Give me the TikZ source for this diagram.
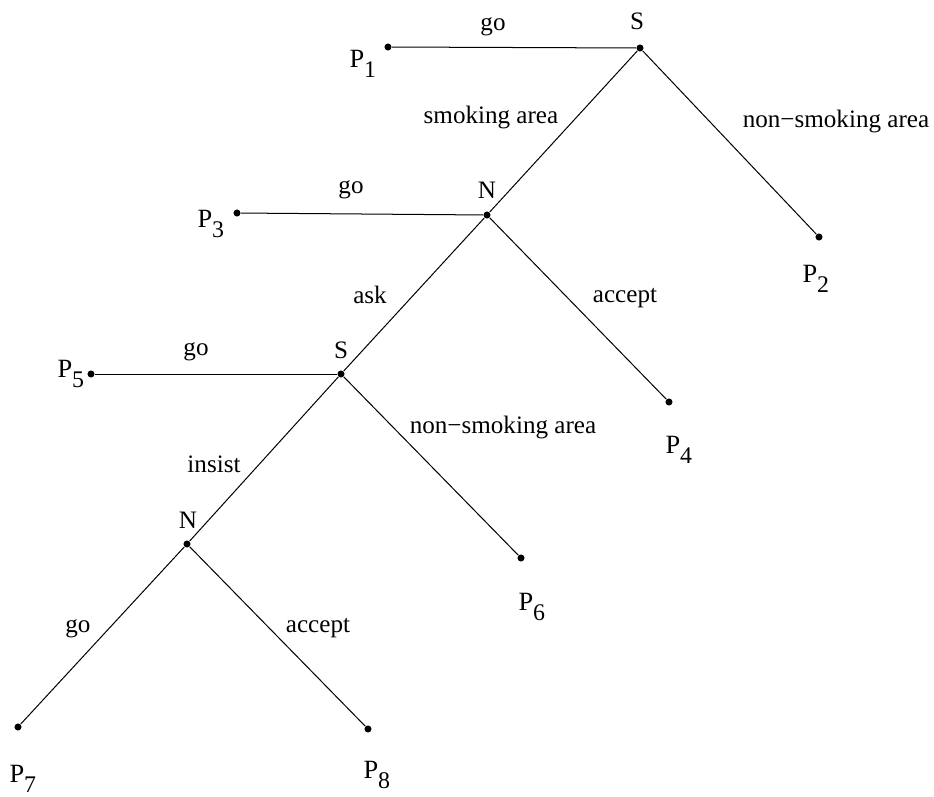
\documentclass[tikz,border=0pt]{standalone}
\usepackage{fontspec}
\setmainfont{Liberation Serif}
\usetikzlibrary{positioning}
\usepackage{xcolor}

\newcommand{\pout}[1]{{\fontsize{10.5}{12}\selectfont P}\raisebox{-0.40em}{\fontsize{9.5}{11}\selectfont #1}}

\begin{document}
\begin{tikzpicture}[x=1.4cm, y=1.4cm,
	dot/.style={fill=black, circle, inner sep=0pt, minimum size=2.8pt},
	branch/.style={draw=black, line width=0.4pt},
	lbl/.style={anchor=base, inner sep=0pt},
	pay/.style={anchor=base west, inner sep=0pt}]
	\useasboundingbox (0,0) rectangle (9.34,-7.97);

	% Decision points
	\node[dot] (s1) at (6.40,-0.48) {};
	\node[dot] (n1) at (4.87,-2.15) {};
	\node[dot] (s2) at (3.41,-3.74) {};
	\node[dot] (n2) at (1.87,-5.44) {};

	% Outcomes
	\node[dot] (p1) at (3.88,-0.47) {};
	\node[dot] (p2) at (8.19,-2.37) {};
	\node[dot] (p3) at (2.37,-2.13) {};
	\node[dot] (p4) at (6.69,-4.02) {};
	\node[dot] (p5) at (0.91,-3.74) {};
	\node[dot] (p6) at (5.21,-5.58) {};
	\node[dot] (p7) at (0.18,-7.27) {};
	\node[dot] (p8) at (3.68,-7.29) {};

	% Branches
	\draw[branch] (s1) -- (p1);
	\draw[branch] (s1) -- (p2);
	\draw[branch] (s1) -- (n1);
	\draw[branch] (n1) -- (p3);
	\draw[branch] (n1) -- (p4);
	\draw[branch] (n1) -- (s2);
	\draw[branch] (s2) -- (p5);
	\draw[branch] (s2) -- (p6);
	\draw[branch] (s2) -- (n2);
	\draw[branch] (n2) -- (p7);
	\draw[branch] (n2) -- (p8);

	% Player labels
	\node[lbl] (s1lbl) at (6.37,-0.29) {S};
	\node[lbl] (n1lbl) at (4.87,-1.98) {N};
	\node[lbl] (s2lbl) at (3.41,-3.58) {S};
	\node[lbl] (n2lbl) at (1.88,-5.28) {N};

	% Action labels
	\node[lbl] (go1) at (4.93,-0.30) {go};
	\node[lbl] (smoke1) at (4.91,-1.23) {smoking area};
	\node[lbl] (nonsmoke1) at (8.36,-1.27) {non−smoking area};
	\node[lbl] (go2) at (3.51,-1.93) {go};
	\node[lbl] (ask1) at (3.70,-3.03) {ask};
	\node[lbl] (accept1) at (6.25,-3.02) {accept};
	\node[lbl] (go3) at (1.96,-3.55) {go};
	\node[lbl] (nonsmoke2) at (5.03,-4.33) {non−smoking area};
	\node[lbl] (insist1) at (2.14,-4.72) {insist};
	\node[lbl] (go4) at (0.78,-6.32) {go};
	\node[lbl] (accept2) at (3.18,-6.32) {accept};

	% Outcome labels
	\node[pay] (p1lbl) at (3.49,-0.67) {\pout{1}};
	\node[pay] (p2lbl) at (8.02,-2.82) {\pout{2}};
	\node[pay] (p3lbl) at (1.97,-2.27) {\pout{3}};
	\node[pay] (p4lbl) at (6.65,-4.53) {\pout{4}};
	\node[pay] (p5lbl) at (0.57,-3.77) {\pout{5}};
	\node[pay] (p6lbl) at (5.18,-6.10) {\pout{6}};
	\node[pay] (p7lbl) at (0.09,-7.82) {\pout{7}};
	\node[pay] (p8lbl) at (3.63,-7.78) {\pout{8}};

\end{tikzpicture}
\end{document}
